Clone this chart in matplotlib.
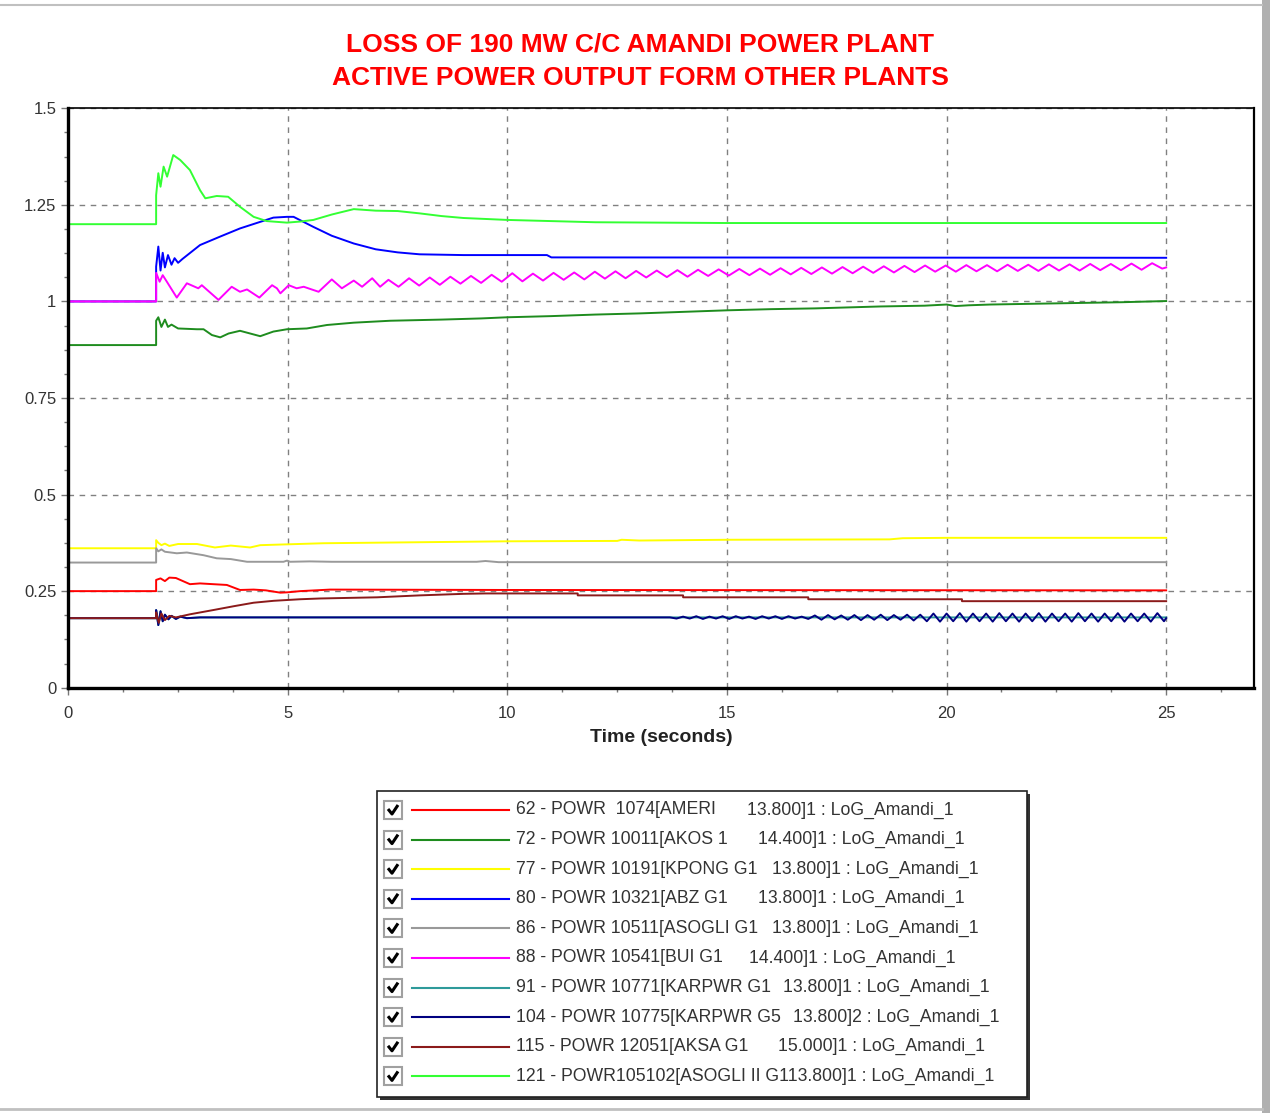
import numpy as np
import matplotlib
matplotlib.use("Agg")
import matplotlib.pyplot as plt
from matplotlib.ticker import MultipleLocator, FixedLocator
from matplotlib.patches import Rectangle

plt.rcParams['font.family'] = ['Liberation Sans', 'DejaVu Sans']

# ---- data (time in s, power in pu) ----
t_62 = [0, 2.0, 2.0, 2.1, 2.2, 2.3, 2.45, 2.55, 2.77, 3.0, 3.3, 3.61, 3.91, 4.22, 4.5, 4.83, 5.0, 5.28, 5.96, 10, 25]
p_62 = [0.250, 0.250, 0.279, 0.283, 0.276, 0.285, 0.284, 0.279, 0.268, 0.270, 0.268, 0.266, 0.253, 0.254, 0.252, 0.246, 0.247, 0.250, 0.254, 0.253, 0.252]

t_72 = [0, 2.0, 2.0, 2.05, 2.12, 2.2, 2.27, 2.35, 2.5, 2.93, 3.08, 3.27, 3.46, 3.65, 3.91, 4.14, 4.37, 4.67, 4.98, 5.43, 5.89,
        6.5, 7.33, 8.5, 9.4, 10, 11, 12, 13, 14, 15, 16, 17, 17.6, 18.5, 19.5, 20.0, 20.2, 20.5, 21, 22, 23, 24, 25]
p_72 = [0.887, 0.887, 0.950, 0.959, 0.934, 0.953, 0.934, 0.940, 0.930, 0.928, 0.928, 0.913, 0.907, 0.917, 0.924, 0.917, 0.910,
        0.922, 0.928, 0.930, 0.939, 0.945, 0.950, 0.953, 0.956, 0.959, 0.962, 0.966, 0.969, 0.973, 0.977, 0.980, 0.982, 0.984,
        0.987, 0.989, 0.992, 0.988, 0.990, 0.992, 0.994, 0.996, 0.998, 1.001]

t_77 = [0, 2.0, 2.0, 2.05, 2.12, 2.2, 2.3, 2.5, 2.93, 3.34, 3.7, 4.14, 4.37, 5.81, 10, 12.5, 12.6, 13.0, 15, 18.7, 19.0, 20, 25]
p_77 = [0.361, 0.361, 0.382, 0.375, 0.369, 0.373, 0.367, 0.372, 0.372, 0.363, 0.368, 0.363, 0.369, 0.374, 0.379, 0.380, 0.383,
        0.381, 0.383, 0.384, 0.387, 0.388, 0.388]

t_80 = [0, 2.0, 2.0, 2.05, 2.1, 2.15, 2.2, 2.27, 2.35, 2.42, 2.5, 2.6, 3.0, 3.46, 3.91, 4.37, 4.67, 4.98, 5.13, 5.58, 6.0,
        6.5, 7.0, 7.5, 8.0, 9.0, 10.9, 11.0, 25]
p_80 = [1.0, 1.0, 1.09, 1.142, 1.08, 1.126, 1.088, 1.12, 1.095, 1.112, 1.10, 1.11, 1.146, 1.168, 1.189, 1.206, 1.217, 1.219,
        1.219, 1.193, 1.170, 1.150, 1.135, 1.127, 1.122, 1.120, 1.120, 1.114, 1.113]

t_86 = [0, 2.0, 2.0, 2.05, 2.12, 2.2, 2.47, 2.7, 3.08, 3.38, 3.7, 4.07, 4.9, 4.98, 5.05, 5.5, 6, 9.3, 9.5, 9.8, 25]
p_86 = [0.324, 0.324, 0.361, 0.353, 0.358, 0.352, 0.348, 0.350, 0.343, 0.335, 0.333, 0.326, 0.326, 0.329, 0.326, 0.327,
        0.326, 0.326, 0.328, 0.325, 0.325]

t_88 = [0, 2.0, 2.0, 2.08, 2.15, 2.25, 2.47, 2.70, 2.96, 3.04, 3.42, 3.72, 3.91, 4.07, 4.35, 4.64, 4.75, 4.83, 5.02, 5.2,
        5.36, 5.70, 6.0, 6.23, 6.50, 6.69, 6.92, 7.10,
        7.29, 7.52, 7.76, 7.99, 8.23, 8.46, 8.70, 8.93, 9.17, 9.40, 9.64, 9.87, 10.11, 10.34, 10.58, 10.81, 11.05, 11.28,
        11.52, 11.75, 11.99, 12.22, 12.46, 12.69, 12.93, 13.16, 13.40, 13.63, 13.87, 14.10, 14.34, 14.57, 14.81, 15.04,
        15.28, 15.51, 15.75, 15.98, 16.22, 16.45, 16.69, 16.92, 17.16, 17.39, 17.63, 17.86, 18.10, 18.33, 18.57, 18.80,
        19.04, 19.27, 19.51, 19.74, 19.98, 20.21, 20.45, 20.68, 20.92, 21.15, 21.39, 21.62, 21.86, 22.09, 22.33, 22.56,
        22.80, 23.03, 23.27, 23.50, 23.74, 23.97, 24.21, 24.44, 24.68, 24.91, 25.0]
p_88 = [1.0, 1.0, 1.074, 1.051, 1.068, 1.05, 1.010, 1.047, 1.034, 1.042, 1.004, 1.038, 1.025, 1.031, 1.010, 1.042, 1.034,
        1.021, 1.042, 1.034, 1.038, 1.025, 1.057, 1.034, 1.054, 1.038, 1.060, 1.038,
        1.056, 1.038, 1.060, 1.041, 1.062, 1.043, 1.064, 1.046, 1.066, 1.048, 1.069, 1.051, 1.073, 1.052, 1.072, 1.054,
        1.074, 1.056, 1.075, 1.057, 1.077, 1.059, 1.078, 1.060, 1.079, 1.062, 1.080, 1.063, 1.081, 1.064, 1.082, 1.066,
        1.083, 1.067, 1.084, 1.068, 1.085, 1.069, 1.086, 1.070, 1.087, 1.071, 1.088, 1.072, 1.089, 1.073, 1.090, 1.074,
        1.091, 1.075, 1.092, 1.076, 1.093, 1.077, 1.093, 1.077, 1.094, 1.078, 1.094, 1.078, 1.095, 1.079, 1.095, 1.079,
        1.096, 1.080, 1.096, 1.080, 1.097, 1.081, 1.097, 1.081, 1.098, 1.082, 1.099, 1.085, 1.088]

t_91 = [0, 2.0, 2.0, 2.05, 2.1, 2.15, 2.2, 2.28, 2.35, 2.45, 2.55, 2.7, 3.0, 25]
p_91 = [0.180, 0.180, 0.201, 0.162, 0.198, 0.172, 0.189, 0.177, 0.186, 0.178, 0.184, 0.180, 0.182, 0.182]

t_104 = [0, 2.0, 2.0, 2.05, 2.1, 2.15, 2.2, 2.28, 2.35, 2.45, 2.55, 2.7, 3.0, 13.7,
         13.85, 14.00, 14.15, 14.30, 14.45, 14.60, 14.75, 14.90, 15.05, 15.20, 15.35, 15.50, 15.65, 15.80, 15.95, 16.10,
         16.25, 16.40, 16.55, 16.70, 16.85, 17.00, 17.15, 17.30, 17.45, 17.60, 17.75, 17.90, 18.05, 18.20, 18.35, 18.50,
         18.65, 18.80, 18.95, 19.10, 19.25, 19.40, 19.55, 19.70, 19.85, 20.00, 20.15, 20.30, 20.45, 20.60, 20.75, 20.90,
         21.05, 21.20, 21.35, 21.50, 21.65, 21.80, 21.95, 22.10, 22.25, 22.40, 22.55, 22.70, 22.85, 23.00, 23.15, 23.30,
         23.45, 23.60, 23.75, 23.90, 24.05, 24.20, 24.35, 24.50, 24.65, 24.80, 24.95, 25.00]
p_104 = [0.180, 0.180, 0.201, 0.162, 0.198, 0.172, 0.189, 0.177, 0.186, 0.178, 0.184, 0.180, 0.182, 0.182,
         0.179, 0.184, 0.179, 0.185, 0.178, 0.184, 0.179, 0.185, 0.178, 0.185, 0.179, 0.184, 0.178, 0.185, 0.179, 0.185,
         0.178, 0.185, 0.179, 0.184, 0.178, 0.187, 0.176, 0.188, 0.177, 0.187, 0.176, 0.188, 0.175, 0.188, 0.176, 0.189,
         0.175, 0.188, 0.176, 0.189, 0.174, 0.189, 0.172, 0.192, 0.171, 0.192, 0.172, 0.193, 0.171, 0.192, 0.172, 0.192,
         0.171, 0.193, 0.172, 0.192, 0.171, 0.192, 0.172, 0.193, 0.171, 0.192, 0.172, 0.192, 0.171, 0.193, 0.172, 0.192,
         0.171, 0.192, 0.172, 0.193, 0.171, 0.192, 0.172, 0.192, 0.171, 0.193, 0.172, 0.180]

t_115 = [0, 2.0, 2.0, 2.06, 2.12, 2.2, 2.3, 2.45, 2.77, 3.3, 3.77, 4.22, 4.68, 5.28, 5.74, 7.03, 8.0, 9.0, 9.5, 11.6, 11.6,
         14.0, 14.0, 16.85, 16.85, 20.35, 20.35, 25]
p_115 = [0.180, 0.180, 0.195, 0.168, 0.192, 0.175, 0.186, 0.182, 0.190, 0.201, 0.211, 0.220, 0.225, 0.229, 0.231, 0.234,
         0.239, 0.243, 0.244, 0.244, 0.239, 0.239, 0.234, 0.234, 0.229, 0.229, 0.224, 0.224]

t_121 = [0, 2.0, 2.0, 2.05, 2.1, 2.17, 2.25, 2.39, 2.55, 2.77, 3.0, 3.12, 3.38, 3.64, 3.91, 4.22, 4.52, 4.98, 5.3, 5.58,
         6.0, 6.5, 7.0, 7.5, 8.0, 8.5, 9.0, 10, 12, 15, 25]
p_121 = [1.200, 1.200, 1.275, 1.332, 1.297, 1.349, 1.323, 1.379, 1.366, 1.340, 1.288, 1.267, 1.273, 1.271, 1.245, 1.219,
         1.208, 1.204, 1.207, 1.211, 1.225, 1.239, 1.235, 1.234, 1.228, 1.221, 1.216, 1.211, 1.205, 1.203, 1.203]

y_ticks = [0, 0.25, 0.5, 0.75, 1.0, 1.25, 1.5]
y_tick_labels = ['0', '0.25', '0.5', '0.75', '1', '1.25', '1.5']
x_ticks = [0, 5, 10, 15, 20, 25]

series = [
    (t_62, p_62, '#ff0000', "62 - POWR  1074[AMERI", "13.800]1 : LoG_Amandi_1", 747),
    (t_72, p_72, '#1e8c1e', "72 - POWR 10011[AKOS 1", "14.400]1 : LoG_Amandi_1", 758),
    (t_77, p_77, '#ffff00', "77 - POWR 10191[KPONG G1", "13.800]1 : LoG_Amandi_1", 772),
    (t_80, p_80, '#0000ff', "80 - POWR 10321[ABZ G1", "13.800]1 : LoG_Amandi_1", 758),
    (t_86, p_86, '#999999', "86 - POWR 10511[ASOGLI G1", "13.800]1 : LoG_Amandi_1", 772),
    (t_88, p_88, '#ff00ff', "88 - POWR 10541[BUI G1", "14.400]1 : LoG_Amandi_1", 749),
    (t_91, p_91, '#2e9a9a', "91 - POWR 10771[KARPWR G1", "13.800]1 : LoG_Amandi_1", 783),
    (t_104, p_104, '#000080', "104 - POWR 10775[KARPWR G5", "13.800]2 : LoG_Amandi_1", 793),
    (t_115, p_115, '#8b1a1a', "115 - POWR 12051[AKSA G1", "15.000]1 : LoG_Amandi_1", 778),
    (t_121, p_121, '#33ff33', "121 - POWR105102[ASOGLI II G113.800]1 : LoG_Amandi_1", "", 0),
]

W, H = 1270, 1113
fig = plt.figure(figsize=(W / 100, H / 100), dpi=100)

# main axes
ax = fig.add_axes([68.3 / W, 1 - 687.7 / H, (1254 - 68.3) / W, (687.7 - 108.3) / H])
for t, p, c, _, _, _ in series:
    ax.plot(t, p, color=c, lw=1.4)

ax.set_xlim(0, 27)
ax.set_ylim(0, 1.5)
ax.xaxis.set_major_locator(FixedLocator(x_ticks))
ax.xaxis.set_minor_locator(MultipleLocator(1.25))
ax.yaxis.set_major_locator(FixedLocator(y_ticks))
ax.yaxis.set_minor_locator(MultipleLocator(0.0625))
ax.set_yticklabels(y_tick_labels)
ax.tick_params(which='both', direction='out', color='#777777', labelsize=12, labelcolor='#333333')
ax.tick_params(which='major', length=5, width=1)
ax.tick_params(which='minor', length=3, width=1)
ax.tick_params(axis='x', pad=8)
ax.grid(True, which='major', color='#808080', ls=(0, (4, 4)), lw=1)
ax.spines['left'].set_linewidth(2.4)
ax.spines['bottom'].set_linewidth(2.4)
ax.spines['top'].set_linewidth(1.2)
ax.spines['right'].set_linewidth(1.6)
ax.set_xlabel('Time (seconds)', fontsize=14, fontweight='bold', color='#222222', labelpad=6)

fig.text(0.504, 1 - 45 / H, 'LOSS OF 190 MW C/C AMANDI POWER PLANT', color='#ff0000', fontsize=19,
         fontweight='bold', ha='center', va='center')
fig.text(0.504, 1 - 78 / H, 'ACTIVE POWER OUTPUT FORM OTHER PLANTS', color='#ff0000', fontsize=19,
         fontweight='bold', ha='center', va='center')

# legend panel, laid out in pixel coordinates
lg = fig.add_axes([0, 0, 1, 1], zorder=5)
lg.set_xlim(0, W)
lg.set_ylim(H, 0)
lg.axis('off')
lg.add_patch(Rectangle((380, 794), 650, 306, facecolor='#333333', edgecolor='none'))
lg.add_patch(Rectangle((377, 791), 650, 306, facecolor='white', edgecolor='#222222', lw=1.2))
for i, (t, p, c, lab, lab2, x2) in enumerate(series):
    y = 810 + 29.6 * i
    lg.add_patch(Rectangle((384, y - 9), 18, 18, facecolor='white', edgecolor='#a0a0a0', lw=1.5))
    lg.plot([388, 392, 398], [y - 1, y + 4, y - 5], color='black', lw=2.2, solid_capstyle='butt')
    lg.plot([412, 509], [y, y], color=c, lw=1.5)
    lg.text(516, y, lab, fontsize=12.7, color='#333333', va='center', ha='left')
    if lab2:
        lg.text(x2, y, lab2, fontsize=12.7, color='#333333', va='center', ha='left')

# outer frame of the window
lg.add_patch(Rectangle((1262, 0), 8, H, facecolor='#b0b0b0', edgecolor='none'))
lg.plot([0, 1262], [5, 5], color='#c0c0c0', lw=1.5)
lg.plot([0, 1262], [1109, 1109], color='#c0c0c0', lw=2)

fig.savefig('out.png', dpi=100)
